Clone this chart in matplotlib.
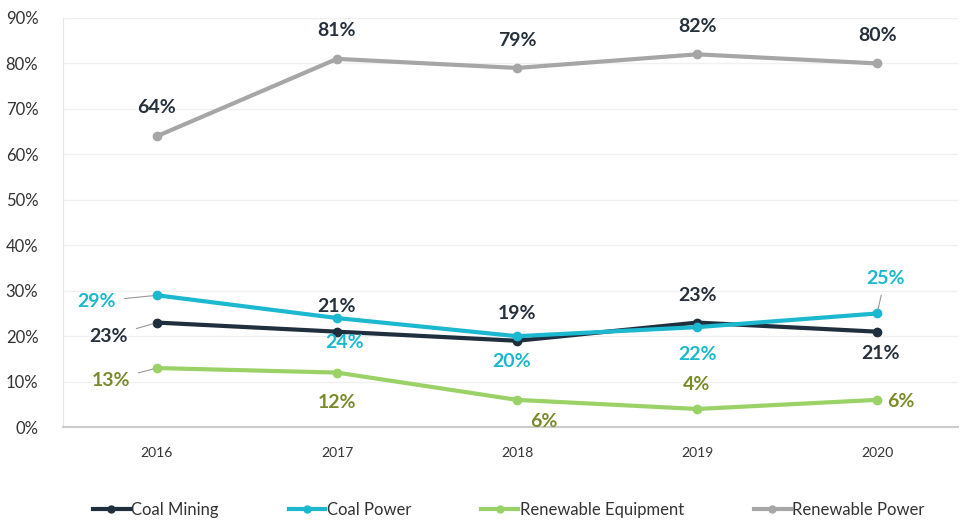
import matplotlib.pyplot as plt
from matplotlib.lines import Line2D

# ── Data ────────────────────────────────────────────────────────────────
YEARS = [2016, 2017, 2018, 2019, 2020]
COAL_MINING = [23, 21, 19, 23, 21]
COAL_POWER = [29, 24, 20, 22, 25]
RENEW_EQUIP = [13, 12, 6, 4, 6]
RENEW_POWER = [64, 81, 79, 82, 80]
SERIES_NAMES = ["Coal Mining", "Coal Power", "Renewable Equipment", "Renewable Power"]
Y_TICKS = [0, 10, 20, 30, 40, 50, 60, 70, 80, 90]

# ── Styles ──────────────────────────────────────────────────────────────
LINE_COLORS = ["#1f2f3d", "#1bb8cf", "#9ad267", "#a6a6a6"]
TEXT_COLORS = ["#26313c", "#1bb8cf", "#7a8b2c", "#26313c"]

# label offsets in pixels (dx, dy) per series per year; leader=True draws a thin line
OFFSETS = [
    [(-48, -14, True), (0, 25, False), (0, 27, False), (0, 27, False), (3, -22, False)],
    [(-60, -6, True), (8, -24, False), (-5, -25, False), (0, -27, False), (8, 35, True)],
    [(-46, -12, True), (0, -30, False), (27, -22, False), (0, 24, False), (24, -2, False)],
    [(0, 29, False), (0, 28, False), (0, 27, False), (0, 28, False), (0, 28, False)],
]

plt.rcParams["font.family"] = ["Lato", "DejaVu Sans"]

fig = plt.figure(figsize=(9.6, 5.28), dpi=100)
ax = fig.add_axes([0.066, 0.191, 0.932, 0.775])

all_series = [COAL_MINING, COAL_POWER, RENEW_EQUIP, RENEW_POWER]
for vals, name, col in zip(all_series, SERIES_NAMES, LINE_COLORS):
    ax.plot(YEARS, vals, color=col, lw=3, marker="o", ms=6, label=name,
            solid_capstyle="round", zorder=3)

for vals, col, tcol, offs in zip(all_series, LINE_COLORS, TEXT_COLORS, OFFSETS):
    for x, v, (dx, dy, leader) in zip(YEARS, vals, offs):
        kw = {}
        if leader:
            kw["arrowprops"] = dict(arrowstyle="-", color="#999999", lw=0.8,
                                    shrinkA=4, shrinkB=3)
        ax.annotate(f"{v}%", xy=(x, v), xytext=(dx, dy),
                    textcoords="offset pixels", ha="center", va="center",
                    fontsize=14, fontweight="bold", color=tcol, zorder=4, **kw)

ax.set_xlim(2015.48, 2020.45)
ax.set_ylim(0, 90)
ax.set_xticks(YEARS)
ax.set_xticklabels([str(y) for y in YEARS], fontsize=10, color="#333333")
ax.set_yticks(Y_TICKS)
ax.set_yticklabels([f"{t}%" for t in Y_TICKS], fontsize=12, color="#333333")
ax.tick_params(axis="both", length=0)
ax.tick_params(axis="x", pad=14)
ax.tick_params(axis="y", pad=18)

ax.grid(axis="y", color="#f0f0f0", lw=1)
ax.set_axisbelow(True)
for s in ["top", "right"]:
    ax.spines[s].set_visible(False)
ax.spines["left"].set_color("#e6e6e6")
ax.spines["bottom"].set_color("#cccccc")
ax.spines["bottom"].set_linewidth(1.5)

handles = [Line2D([0], [0], color=c, lw=3, marker="o", ms=5) for c in LINE_COLORS]
fig.legend(handles, SERIES_NAMES, loc="lower center", ncol=4, frameon=False,
           fontsize=12, bbox_to_anchor=(0.53, -0.01), columnspacing=4.2,
           handlelength=2.2, handletextpad=0.1, labelcolor="#333333")

fig.savefig("out.png", dpi=100)
